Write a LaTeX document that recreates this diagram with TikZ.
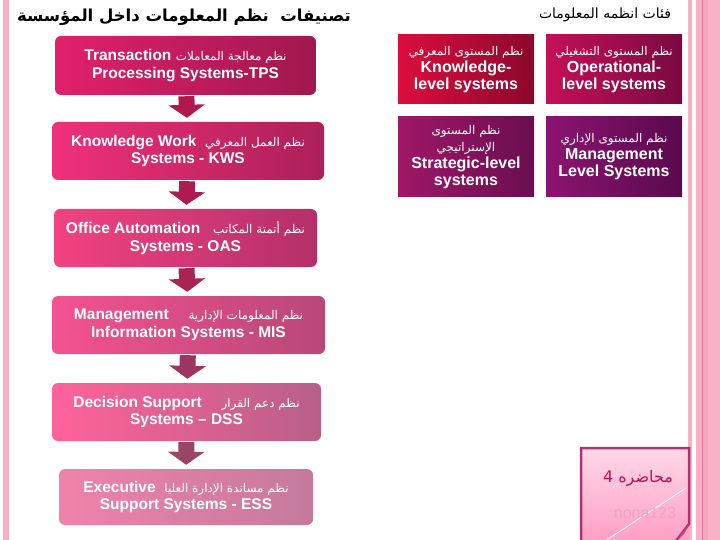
\documentclass[tikz,border=0pt]{standalone}
\usepackage{fontspec}
\setmainfont{Liberation Sans}
\newfontfamily\arabicfont[Script=Arabic]{DejaVu Sans}
\TeXXeTstate=1
\usetikzlibrary{arrows.meta}
\newcommand{\artxt}[1]{{\arabicfont\beginR #1\endR}}
\definecolor{stripe}{HTML}{F9B0C6}
\definecolor{stripedark}{HTML}{E27AA0}
\definecolor{aone}{HTML}{B0184E}
\definecolor{atwo}{HTML}{AC1C52}
\definecolor{athree}{HTML}{A82456}
\definecolor{afour}{HTML}{9E3460}
\definecolor{afive}{HTML}{9A4468}
\definecolor{notetop}{HTML}{FFD8E6}
\definecolor{notebot}{HTML}{FFA0C4}
\definecolor{noteedge}{HTML}{B2306C}
\definecolor{notecurl}{HTML}{C84682}
\definecolor{notetext}{HTML}{C4105A}
\definecolor{nonatext}{HTML}{ECA6C4}
\tikzset{
  lbox/.style={rounded corners=6pt, minimum width=#1, minimum height=58pt, text=white, align=center, inner sep=0pt, font=\fontsize{15.5}{17.5}\selectfont\bfseries},
  rbox/.style={minimum width=136pt, text=white, align=center, inner sep=0pt, font=\fontsize{16}{17}\selectfont\bfseries},
  flow/.style={line width=16pt, shorten <=1pt, shorten >=4pt, -{Triangle[width=36pt,length=13pt]}}
}
\newcommand{\arl}[1]{{\mdseries\fontsize{12}{14}\selectfont\artxt{#1}}}
\begin{document}
\begin{tikzpicture}[x=1pt,y=-1pt]
\useasboundingbox (0,0) rectangle (720,540);
\fill[white] (0,0) rectangle (720,540);
% side stripes
\fill[stripe] (3,0) rectangle (8.5,540);
\fill[stripe] (688,0) rectangle (691.5,540);
\fill[stripe] (696,0) rectangle (720,540);
\fill[stripe!80!stripedark] (702,0) rectangle (708,540);
\draw[stripedark, line width=0.8pt] (702,0) -- (702,540);
% titles
\node[font=\fontsize{16.5}{18}\selectfont\bfseries] (ltitle) at (184,17) {\artxt{تصنيفات\ \ نظم المعلومات داخل المؤسسة}};
\node[font=\fontsize{14}{16}\selectfont] (rtitle) at (605,15) {\artxt{فئات انظمه المعلومات}};
% left column
\node[lbox=261pt, minimum height=59pt, left color={rgb,255:red,226;green,32;blue,108}, right color={rgb,255:red,160;green,24;blue,78}] (tps) at (185.5,65.5)
  {Transaction \arl{نظم معالجة المعاملات}\\Processing Systems-TPS};
\node[lbox=272pt, left color={rgb,255:red,240;green,48;blue,122}, right color={rgb,255:red,172;green,32;blue,88}] (kws) at (188,151)
  {Knowledge Work \ \arl{نظم العمل المعرفي}\\Systems - KWS};
\node[lbox=263pt, left color={rgb,255:red,242;green,66;blue,130}, right color={rgb,255:red,180;green,48;blue,104}] (oas) at (185.5,238)
  {Office Automation \ \ \arl{نظم أتمتة المكاتب}\\Systems - OAS};
\node[lbox=273pt, left color={rgb,255:red,244;green,82;blue,144}, right color={rgb,255:red,184;green,72;blue,120}] (mis) at (188.5,325)
  {Management \quad\arl{نظم المعلومات الإدارية}\\Information Systems - MIS};
\node[lbox=269pt, left color={rgb,255:red,255;green,98;blue,154}, right color={rgb,255:red,184;green,96;blue,136}] (dss) at (186.5,412)
  {Decision Support \quad\arl{نظم دعم القرار}\\Systems -- DSS};
\node[lbox=254pt, minimum height=56pt, left color={rgb,255:red,240;green,130;blue,170}, right color={rgb,255:red,196;green,122;blue,156}] (ess) at (186,497)
  {Executive \ \arl{نظم مساندة الإدارة العليا}\\Support Systems - ESS};
% arrows
\draw[flow, aone] (tps) -- (kws);
\draw[flow, atwo] (kws) -- (oas);
\draw[flow, athree] (oas) -- (mis);
\draw[flow, afour] (mis) -- (dss);
\draw[flow, afive] (dss) -- (ess);
% right grid
\node[rbox, minimum height=69pt, left color={rgb,255:red,220;green,14;blue,62}, right color={rgb,255:red,140;green,8;blue,44}] (know) at (466,69.5)
  {\arl{نظم المستوى المعرفي}\\Knowledge-\\level systems};
\node[rbox, minimum height=69pt, left color={rgb,255:red,196;green,16;blue,88}, right color={rgb,255:red,122;green,10;blue,64}] (oper) at (614,69.5)
  {\arl{نظم المستوى التشغيلي}\\Operational-\\level systems};
\node[rbox, minimum height=80pt, left color={rgb,255:red,160;green,24;blue,104}, right color={rgb,255:red,106;green,14;blue,80}] (strat) at (466,157)
  {\arl{نظم المستوى}\\\arl{الإستراتيجي}\\Strategic-level\\systems};
\node[rbox, minimum height=80pt, left color={rgb,255:red,140;green,20;blue,112}, right color={rgb,255:red,90;green,10;blue,78}] (mgmt) at (614,157)
  {\arl{نظم المستوى الإداري}\\Management\\Level Systems};
% sticky note
\shade[top color=notetop, bottom color=notebot] (581,448) rectangle (689,540);
\draw[line width=2.5pt, noteedge] (581,541) -- (581,448) -- (689,448) -- (689,524) -- (676,541);
\draw[white, line width=0.8pt] (605,541) -- (686,488);
\fill[notecurl] (676,541) -- (689,524) -- (684,534) -- cycle;
\node[text=notetext, font=\fontsize{16}{18}\selectfont] (lect) at (638,478) {\artxt{محاضره 4}};
\node[text=nonatext, font=\fontsize{16}{18}\selectfont] (nona) at (645,513) {nona123};
\end{tikzpicture}
\end{document}
